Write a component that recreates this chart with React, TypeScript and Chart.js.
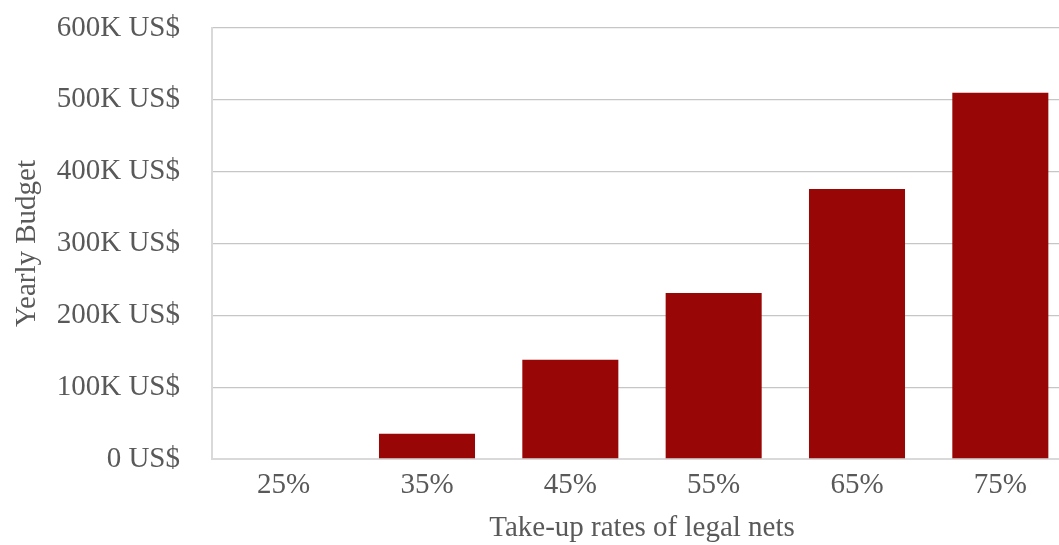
import React, { useEffect, useRef } from "react";
import { Chart, registerables } from "chart.js";

Chart.register(...registerables);

const categories = ["25%", "35%", "45%", "55%", "65%", "75%"];
const budgetValues = [0, 35000, 138000, 231000, 376000, 510000];
const yTickMax = 600000;
const yTickStep = 100000;
const xTitle = "Take-up rates of legal nets";
const yTitle = "Yearly Budget";

const FONT = "'Liberation Serif', 'Times New Roman', serif";
const TEXT = "#595959";
const FS = 29;

export default function App() {
  const ref = useRef<HTMLCanvasElement | null>(null);
  useEffect(() => {
    if (!ref.current) return;
    const chart = new Chart(ref.current, {
      type: "bar",
      data: {
        labels: categories,
        datasets: [
          {
            data: budgetValues,
            backgroundColor: "#990606",
            barPercentage: 0.67,
            categoryPercentage: 1,
          },
        ],
      },
      options: {
        animation: false,
        responsive: false,
        devicePixelRatio: 1,
        layout: { padding: { left: 0, right: 0, top: 28, bottom: 0 } },
        plugins: { legend: { display: false }, tooltip: { enabled: false } },
        scales: {
          x: {
            grid: { display: false, drawTicks: false },
            border: { display: true, color: "#d9d9d9", width: 2 },
            ticks: { color: TEXT, font: { family: FONT, size: FS }, padding: 9 },
            title: {
              display: true,
              text: xTitle,
              color: TEXT,
              font: { family: FONT, size: FS },
              padding: { top: 0, bottom: 0 },
            },
            afterFit: (scale: any) => {
              scale.height = 87;
            },
          },
          y: {
            min: 0,
            max: yTickMax,
            grid: { color: "#c6c6c6", lineWidth: 1.3, drawTicks: false },
            border: { display: true, color: "#d9d9d9", width: 2 },
            ticks: {
              stepSize: yTickStep,
              color: TEXT,
              font: { family: FONT, size: FS },
              padding: 32,
              callback: (v: any) => (v === 0 ? "0 US$" : `${Number(v) / 1000}K US$`),
            },
            title: {
              display: true,
              text: yTitle,
              color: TEXT,
              font: { family: FONT, size: FS },
              padding: { top: 10, bottom: 0 },
            },
            afterFit: (scale: any) => {
              scale.width = 212;
              scale.paddingTop = 0;
              scale.paddingBottom = 0;
            },
          },
        },
      },
    });
    return () => chart.destroy();
  }, []);
  return (
    <div
      style={{
        position: "fixed",
        left: 0,
        top: 0,
        width: 1059,
        height: 545,
        overflow: "hidden",
        background: "#fff",
      }}
    >
      <canvas ref={ref} width={1072} height={546} style={{ width: 1072, height: 546, display: "block" }} />
    </div>
  );
}
